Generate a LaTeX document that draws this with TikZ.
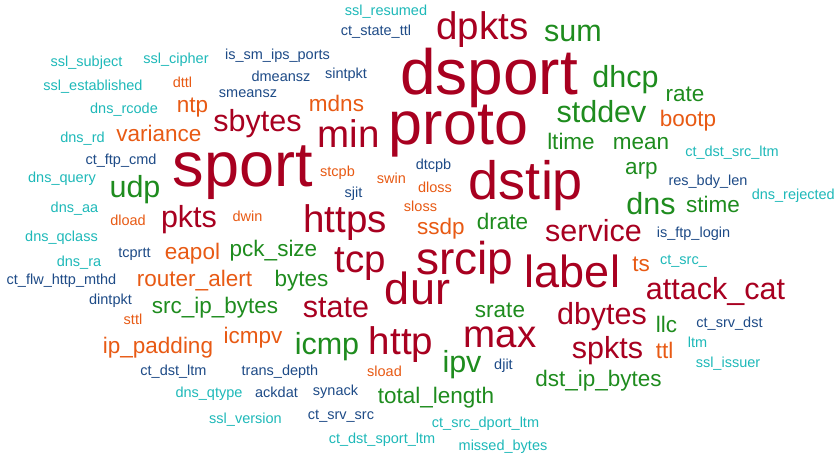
\documentclass[tikz,border=0pt]{standalone}
\usepackage{fontspec}
\setmainfont{Liberation Sans}
\definecolor{cred}{RGB}{168,0,32}
\definecolor{cgreen}{RGB}{30,140,30}
\definecolor{corange}{RGB}{232,90,20}
\definecolor{cteal}{RGB}{30,185,185}
\definecolor{cnavy}{RGB}{30,75,135}
\begin{document}
\begin{tikzpicture}[x=1pt, y=-1pt,
    every node/.style={inner sep=0pt, anchor=base},
    f14/.style={font=\fontsize{14.5}{15}\selectfont},
    f22/.style={font=\fontsize{22.5}{23}\selectfont},
    f30/.style={font=\fontsize{30.5}{31}\selectfont},
    f38/.style={font=\fontsize{38.5}{39}\selectfont},
    fbig/.style={font=\fontsize{#1}{#1}\selectfont},
    rd/.style={text=cred}, gn/.style={text=cgreen}, og/.style={text=corange},
    tl/.style={text=cteal}, nv/.style={text=cnavy}]
\fill[white](0,0)rectangle(836,457);
\useasboundingbox(0,0)rectangle(836,457);
% largest words
\node[rd,fbig=64](dsport) at (489,95){dsport};
\node[rd,fbig=63](sport) at (243,187){sport};
\node[rd,fbig=61](proto) at (458.5,145){proto};
\node[rd,fbig=54](dstip) at (526,200){dstip};
\node[rd,fbig=46](srcip) at (465,275){srcip};
\node[rd,fbig=45](dur) at (417.5,305){dur};
\node[rd,fbig=45](label) at (572.5,288){label};
\node[rd,f38](dpkts) at (482.5,40){dpkts};
\node[rd,f38](min) at (348.5,148){min};
\node[rd,f38](https) at (345,233){https};
\node[rd,f38](tcp) at (360,273){tcp};
\node[rd,f38](http) at (401,355){http};
\node[rd,f38](max) at (500,347){max};
% medium words
\node[gn,f30](sum) at (573,42){sum};
\node[gn,f30](dhcp) at (625.5,88){dhcp};
\node[gn,f30](stddev) at (601.5,123){stddev};
\node[rd,f30](sbytes) at (257.5,132){sbytes};
\node[gn,f30](udp) at (135,198){udp};
\node[rd,f30](pkts) at (189,228){pkts};
\node[gn,f30](dns) at (651,215){dns};
\node[rd,f30](service) at (593.5,242){service};
\node[rd,f30](state) at (336,317){state};
\node[rd,f30](attackcat) at (715.5,300){attack\_cat};
\node[rd,f30](dbytes) at (602,325){dbytes};
\node[rd,f30](spkts) at (607.5,359){spkts};
\node[gn,f30](icmp) at (327,355){icmp};
\node[gn,f30](ipv) at (462,372){ipv};
\node[og,f22](variance) at (159,142){variance};
\node[og,f22](ntp) at (192.5,113){ntp};
\node[og,f22](mdns) at (336.5,112){mdns};
\node[gn,f22](rate) at (685,102){rate};
\node[og,f22](bootp) at (688,127){bootp};
\node[gn,f22](ltime) at (571,150){ltime};
\node[gn,f22](mean) at (641,150){mean};
\node[gn,f22](arp) at (641.5,175){arp};
\node[gn,f22](stime) at (713,213){stime};
\node[og,f22](eapol) at (192.5,260){eapol};
\node[gn,f22](pcksize) at (273.5,257){pck\_size};
\node[og,f22](routeralert) at (194.5,287){router\_alert};
\node[gn,f22](bytes) at (301.5,287){bytes};
\node[gn,f22](srcipbytes) at (215,313){src\_ip\_bytes};
\node[og,f22](ippadding) at (158,353){ip\_padding};
\node[og,f22](icmpv) at (253,343){icmpv};
\node[og,f22](ssdp) at (441,235){ssdp};
\node[gn,f22](drate) at (502.5,230){drate};
\node[gn,f22](srate) at (500,318){srate};
\node[gn,f22](totallength) at (436,403){total\_length};
\node[gn,f22](dstipbytes) at (598.5,386){dst\_ip\_bytes};
\node[gn,f22](llc) at (666.5,332){llc};
\node[og,f22](ttl) at (664.5,358){ttl};
\node[og,f22](ts) at (641,272){ts};
% small words
\node[tl,f14](sslresumed) at (386,16){ssl\_resumed};
\node[nv,f14](ctstatettl) at (376,36){ct\_state\_ttl};
\node[tl,f14](sslsubject) at (86.5,67){ssl\_subject};
\node[tl,f14](sslcipher) at (176,64){ssl\_cipher};
\node[nv,f14](issmipsports) at (277.5,60){is\_sm\_ips\_ports};
\node[tl,f14](sslestablished) at (93,91){ssl\_established};
\node[og,f14](dttl) at (182.5,88){dttl};
\node[nv,f14](dmeansz) at (281,82){dmeansz};
\node[nv,f14](sintpkt) at (346,79){sintpkt};
\node[nv,f14](smeansz) at (248,98){smeansz};
\node[tl,f14](dnsrcode) at (124,114){dns\_rcode};
\node[tl,f14](dnsrd) at (82.5,143){dns\_rd};
\node[nv,f14](ctftpcmd) at (121,165){ct\_ftp\_cmd};
\node[tl,f14](dnsquery) at (62,183){dns\_query};
\node[tl,f14](dnsaa) at (74.5,213){dns\_aa};
\node[og,f14](dload) at (128,226){dload};
\node[og,f14](dwin) at (247.5,222){dwin};
\node[tl,f14](dnsqclass) at (61.5,242){dns\_qclass};
\node[nv,f14](tcprtt) at (134.5,258){tcprtt};
\node[tl,f14](dnsra) at (79,267){dns\_ra};
\node[nv,f14](ctflwhttpmthd) at (61.5,285){ct\_flw\_http\_mthd};
\node[nv,f14](dintpkt) at (110.5,305){dintpkt};
\node[og,f14](sttl) at (133,325){sttl};
\node[nv,f14](ctdstltm) at (173.5,375){ct\_dst\_ltm};
\node[nv,f14](transdepth) at (280,375){trans\_depth};
\node[tl,f14](dnsqtype) at (209,397){dns\_qtype};
\node[nv,f14](ackdat) at (276.5,397){ackdat};
\node[tl,f14](sslversion) at (245.5,423){ssl\_version};
\node[nv,f14](synack) at (335.5,395){synack};
\node[nv,f14](ctsrvsrc) at (341,419){ct\_srv\_src};
\node[tl,f14](ctdstsportltm) at (382,443){ct\_dst\_sport\_ltm};
\node[tl,f14](ctsrcdportltm) at (485.5,427){ct\_src\_dport\_ltm};
\node[tl,f14](missedbytes) at (503,450){missed\_bytes};
\node[og,f14](sload) at (384.5,377){sload};
\node[nv,f14](djit) at (503.5,370){djit};
\node[og,f14](stcpb) at (337.5,177){stcpb};
\node[og,f14](swin) at (391.5,184){swin};
\node[nv,f14](dtcpb) at (433.5,170){dtcpb};
\node[og,f14](dloss) at (435,193){dloss};
\node[nv,f14](sjit) at (353.5,198){sjit};
\node[og,f14](sloss) at (420.5,212){sloss};
\node[tl,f14](ctdstsrcltm) at (732,157){ct\_dst\_src\_ltm};
\node[nv,f14](resbdylen) at (708,186){res\_bdy\_len};
\node[tl,f14,anchor=base east](dnsrejected) at (835,200){dns\_rejected};
\node[nv,f14](isftplogin) at (693.5,238){is\_ftp\_login};
\node[tl,f14](ctsrc) at (683.5,265){ct\_src\_};
\node[nv,f14](ctsrvdst) at (729.5,327){ct\_srv\_dst};
\node[tl,f14](ltm) at (697.5,347){ltm};
\node[tl,f14](sslissuer) at (728,367){ssl\_issuer};
\end{tikzpicture}
\end{document}
